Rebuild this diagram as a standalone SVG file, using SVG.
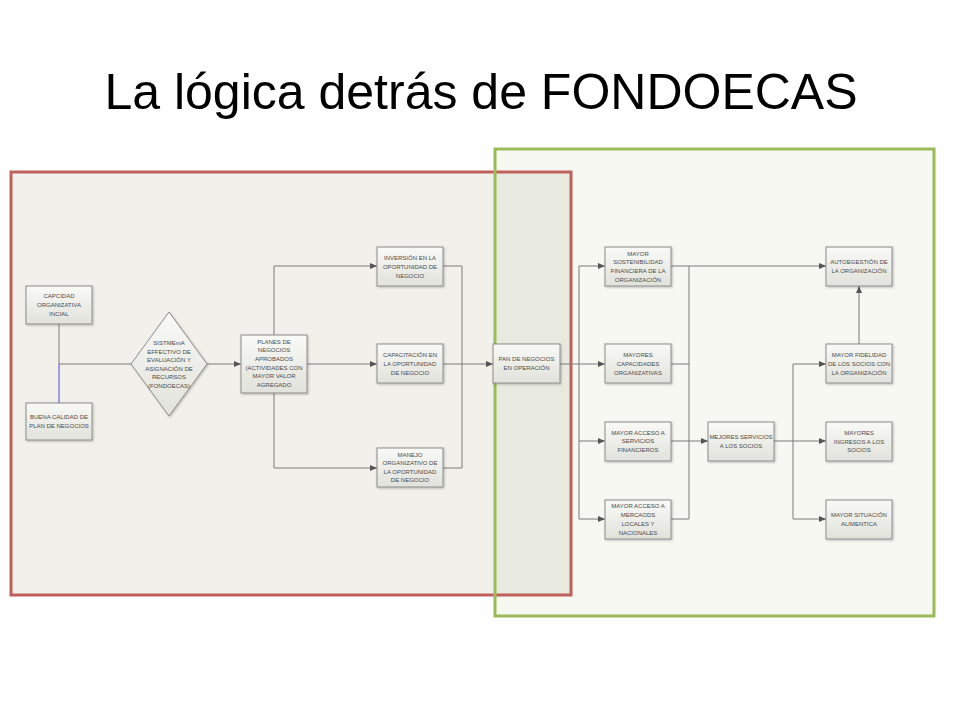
<svg xmlns="http://www.w3.org/2000/svg" width="960" height="720" viewBox="0 0 960 720">
<defs>
<linearGradient id="bx" x1="0" y1="0" x2="0" y2="1">
<stop offset="0" stop-color="#f9f9f6"/>
<stop offset="1" stop-color="#e2e2dc"/>
</linearGradient>
<marker id="ah" markerWidth="7" markerHeight="6" refX="7" refY="3" orient="auto" markerUnits="userSpaceOnUse">
<path d="M0,0 L7,3 L0,6 Z" fill="#555"/>
</marker>
<filter id="sh" x="-10%" y="-10%" width="130%" height="130%">
<feDropShadow dx="1" dy="1" stdDeviation="0.8" flood-color="#000" flood-opacity="0.25"/>
</filter>
</defs>
<style>
.box{fill:url(#bx);stroke:#8c8c8c;stroke-width:1;filter:url(#sh)}
.t{font-family:"Liberation Sans",Arial,sans-serif;font-size:6px;fill:#4a4a4a;text-anchor:middle}
.c{fill:none;stroke:#7a7a7a;stroke-width:1}
.a{marker-end:url(#ah)}
.title{font-family:"Liberation Sans",Arial,sans-serif;font-size:50px;fill:#000;text-anchor:middle}
</style>
<rect width="960" height="720" fill="#fff"/>
<text class="title" x="481" y="109">La lógica detrás de FONDOECAS</text>
<g id="frames">
<rect x="11" y="172" width="560" height="423" fill="#f1f0ea"/>
<rect x="495" y="149" width="439" height="467" fill="#f7f8f2"/>
<rect x="495" y="172" width="76" height="423" fill="#e9eadf"/>
<rect x="11" y="172" width="560" height="423" fill="none" stroke="#c0605a" stroke-width="3"/>
<rect x="495" y="149" width="439" height="467" fill="none" stroke="#9bbb59" stroke-width="3"/>
</g>
<g id="connectors">
<path class="c" d="M59,324 V364"/>
<path d="M59,364 V403" fill="none" stroke="#4b4bd6" stroke-width="1"/>
<path class="c" d="M59,364 H131"/>
<path class="c a" d="M207,364 H241"/>
<path class="c a" d="M274,335 V266 H377"/>
<path class="c a" d="M307,364 H377"/>
<path class="c a" d="M274,393 V468 H377"/>
<path class="c" d="M443,266 H462 V468 H443"/>
<path class="c a" d="M443,364 H493"/>
<path class="c a" d="M560,364 H605"/>
<path class="c a" d="M579,364 V266 H605"/>
<path class="c a" d="M579,364 V441 H605"/>
<path class="c a" d="M579,441 V519 H605"/>
<path class="c a" d="M671,266 H826"/>
<path class="c" d="M689,266 V519 H671"/>
<path class="c" d="M671,364 H689"/>
<path class="c a" d="M671,441 H708"/>
<path class="c" d="M774,441 H793"/>
<path class="c a" d="M793,441 V364 H826"/>
<path class="c a" d="M793,441 H826"/>
<path class="c a" d="M793,441 V519 H826"/>
<path class="c a" d="M859,344 V286"/>
</g>
<g id="capacidad"><rect class="box" x="26" y="286" width="66" height="38"/>
<text class="t" x="59"><tspan x="59" y="298">CAPCIDAD</tspan><tspan x="59" y="307">ORGANIZATIVA</tspan><tspan x="59" y="316">INCIAL</tspan></text></g>
<g id="buena"><rect class="box" x="26" y="403" width="66" height="37"/>
<text class="t"><tspan x="59" y="419">BUENA CALIDAD DE</tspan><tspan x="59" y="428">PLAN DE NEGOCIOS</tspan></text></g>
<g id="sistema"><polygon class="box" points="169,312 207,364 169,416 131,364"/>
<text class="t"><tspan x="169" y="345">SISTMEmA</tspan><tspan x="169" y="353.5">EFFECTIVO DE</tspan><tspan x="169" y="362">EVALUACIÓN Y</tspan><tspan x="169" y="370.5">ASIGNACIÓN DE</tspan><tspan x="169" y="379">RECURSOS</tspan><tspan x="169" y="387.5">(FONDOECAS)</tspan></text></g>
<g id="planes"><rect class="box" x="241" y="335" width="66" height="58"/>
<text class="t"><tspan x="274" y="343.5">PLANES DE</tspan><tspan x="274" y="352.2">NEGOCIOS</tspan><tspan x="274" y="360.9">APROBADOS</tspan><tspan x="274" y="369.6">(ACTIVIDADES CON</tspan><tspan x="274" y="378.3">MAYOR VALOR</tspan><tspan x="274" y="387">AGREGADO</tspan></text></g>
<g id="inversion"><rect class="box" x="377" y="247" width="66" height="39"/>
<text class="t"><tspan x="410" y="259.5">INVERSIÓN EN LA</tspan><tspan x="410" y="268.5">OPORTUNIDAD DE</tspan><tspan x="410" y="277.5">NEGOCIO</tspan></text></g>
<g id="capacitacion"><rect class="box" x="377" y="344" width="66" height="39"/>
<text class="t"><tspan x="410" y="357">CAPACITACIÓN EN</tspan><tspan x="410" y="365.8">LA OPORTUNIDAD</tspan><tspan x="410" y="374.6">DE NEGOCIO</tspan></text></g>
<g id="manejo"><rect class="box" x="377" y="448" width="66" height="39"/>
<text class="t"><tspan x="410" y="456.5">MANEJO</tspan><tspan x="410" y="464.8">ORGANIZATIVO DE</tspan><tspan x="410" y="473.5">LA OPORTUNIDAD</tspan><tspan x="410" y="482.2">DE NEGOCIO</tspan></text></g>
<g id="pan"><rect class="box" x="493" y="344" width="67" height="39"/>
<text class="t"><tspan x="526.5" y="361">PAN DE NEGOCIOS</tspan><tspan x="526.5" y="369.8">EN OPERACIÓN</tspan></text></g>
<g id="sostenibilidad"><rect class="box" x="605" y="247" width="66" height="39"/>
<text class="t"><tspan x="638" y="255.5">MAYOR</tspan><tspan x="638" y="264.2">SOSTENIBILIDAD</tspan><tspan x="638" y="272.9">FINANCIERA DE LA</tspan><tspan x="638" y="281.6">ORGANIZACIÓN</tspan></text></g>
<g id="capacidades"><rect class="box" x="605" y="344" width="66" height="39"/>
<text class="t"><tspan x="638" y="357">MAYORES</tspan><tspan x="638" y="365.8">CAPACIDADES</tspan><tspan x="638" y="374.6">ORGANIZATIVAS</tspan></text></g>
<g id="servicios"><rect class="box" x="605" y="422" width="66" height="39"/>
<text class="t"><tspan x="638" y="434.5">MAYOR ACCESO A</tspan><tspan x="638" y="443.3">SERVICIOS</tspan><tspan x="638" y="452.1">FINANCIEROS</tspan></text></g>
<g id="mercados"><rect class="box" x="605" y="500" width="66" height="39"/>
<text class="t"><tspan x="638" y="508.2">MAYOR ACCESO A</tspan><tspan x="638" y="517">MERCAODS</tspan><tspan x="638" y="525.8">LOCALES Y</tspan><tspan x="638" y="534.5">NACIONALES</tspan></text></g>
<g id="mejores"><rect class="box" x="708" y="422" width="66" height="39"/>
<text class="t"><tspan x="741" y="439">MEJORES SERVICIOS</tspan><tspan x="741" y="447.8">A LOS SOCIOS</tspan></text></g>
<g id="autogestion"><rect class="box" x="826" y="247" width="66" height="39"/>
<text class="t"><tspan x="859" y="264">AUTOEGESTIÓN DE</tspan><tspan x="859" y="272.8">LA ORGANIZACIÓN</tspan></text></g>
<g id="fidelidad"><rect class="box" x="826" y="344" width="66" height="39"/>
<text class="t"><tspan x="859" y="357">MAYOR FIDELIDAD</tspan><tspan x="859" y="365.8">DE LOS SOCIOS CON</tspan><tspan x="859" y="374.6">LA ORGANIZACIÓN</tspan></text></g>
<g id="ingresos"><rect class="box" x="826" y="422" width="66" height="39"/>
<text class="t"><tspan x="859" y="434.7">MAYORES</tspan><tspan x="859" y="443.5">INGRESOS A LOS</tspan><tspan x="859" y="452.3">SOCIOS</tspan></text></g>
<g id="situacion"><rect class="box" x="826" y="500" width="66" height="39"/>
<text class="t"><tspan x="859" y="516.7">MAYOR SITUACIÓN</tspan><tspan x="859" y="525.5">ALIMENTICA</tspan></text></g>
</svg>
